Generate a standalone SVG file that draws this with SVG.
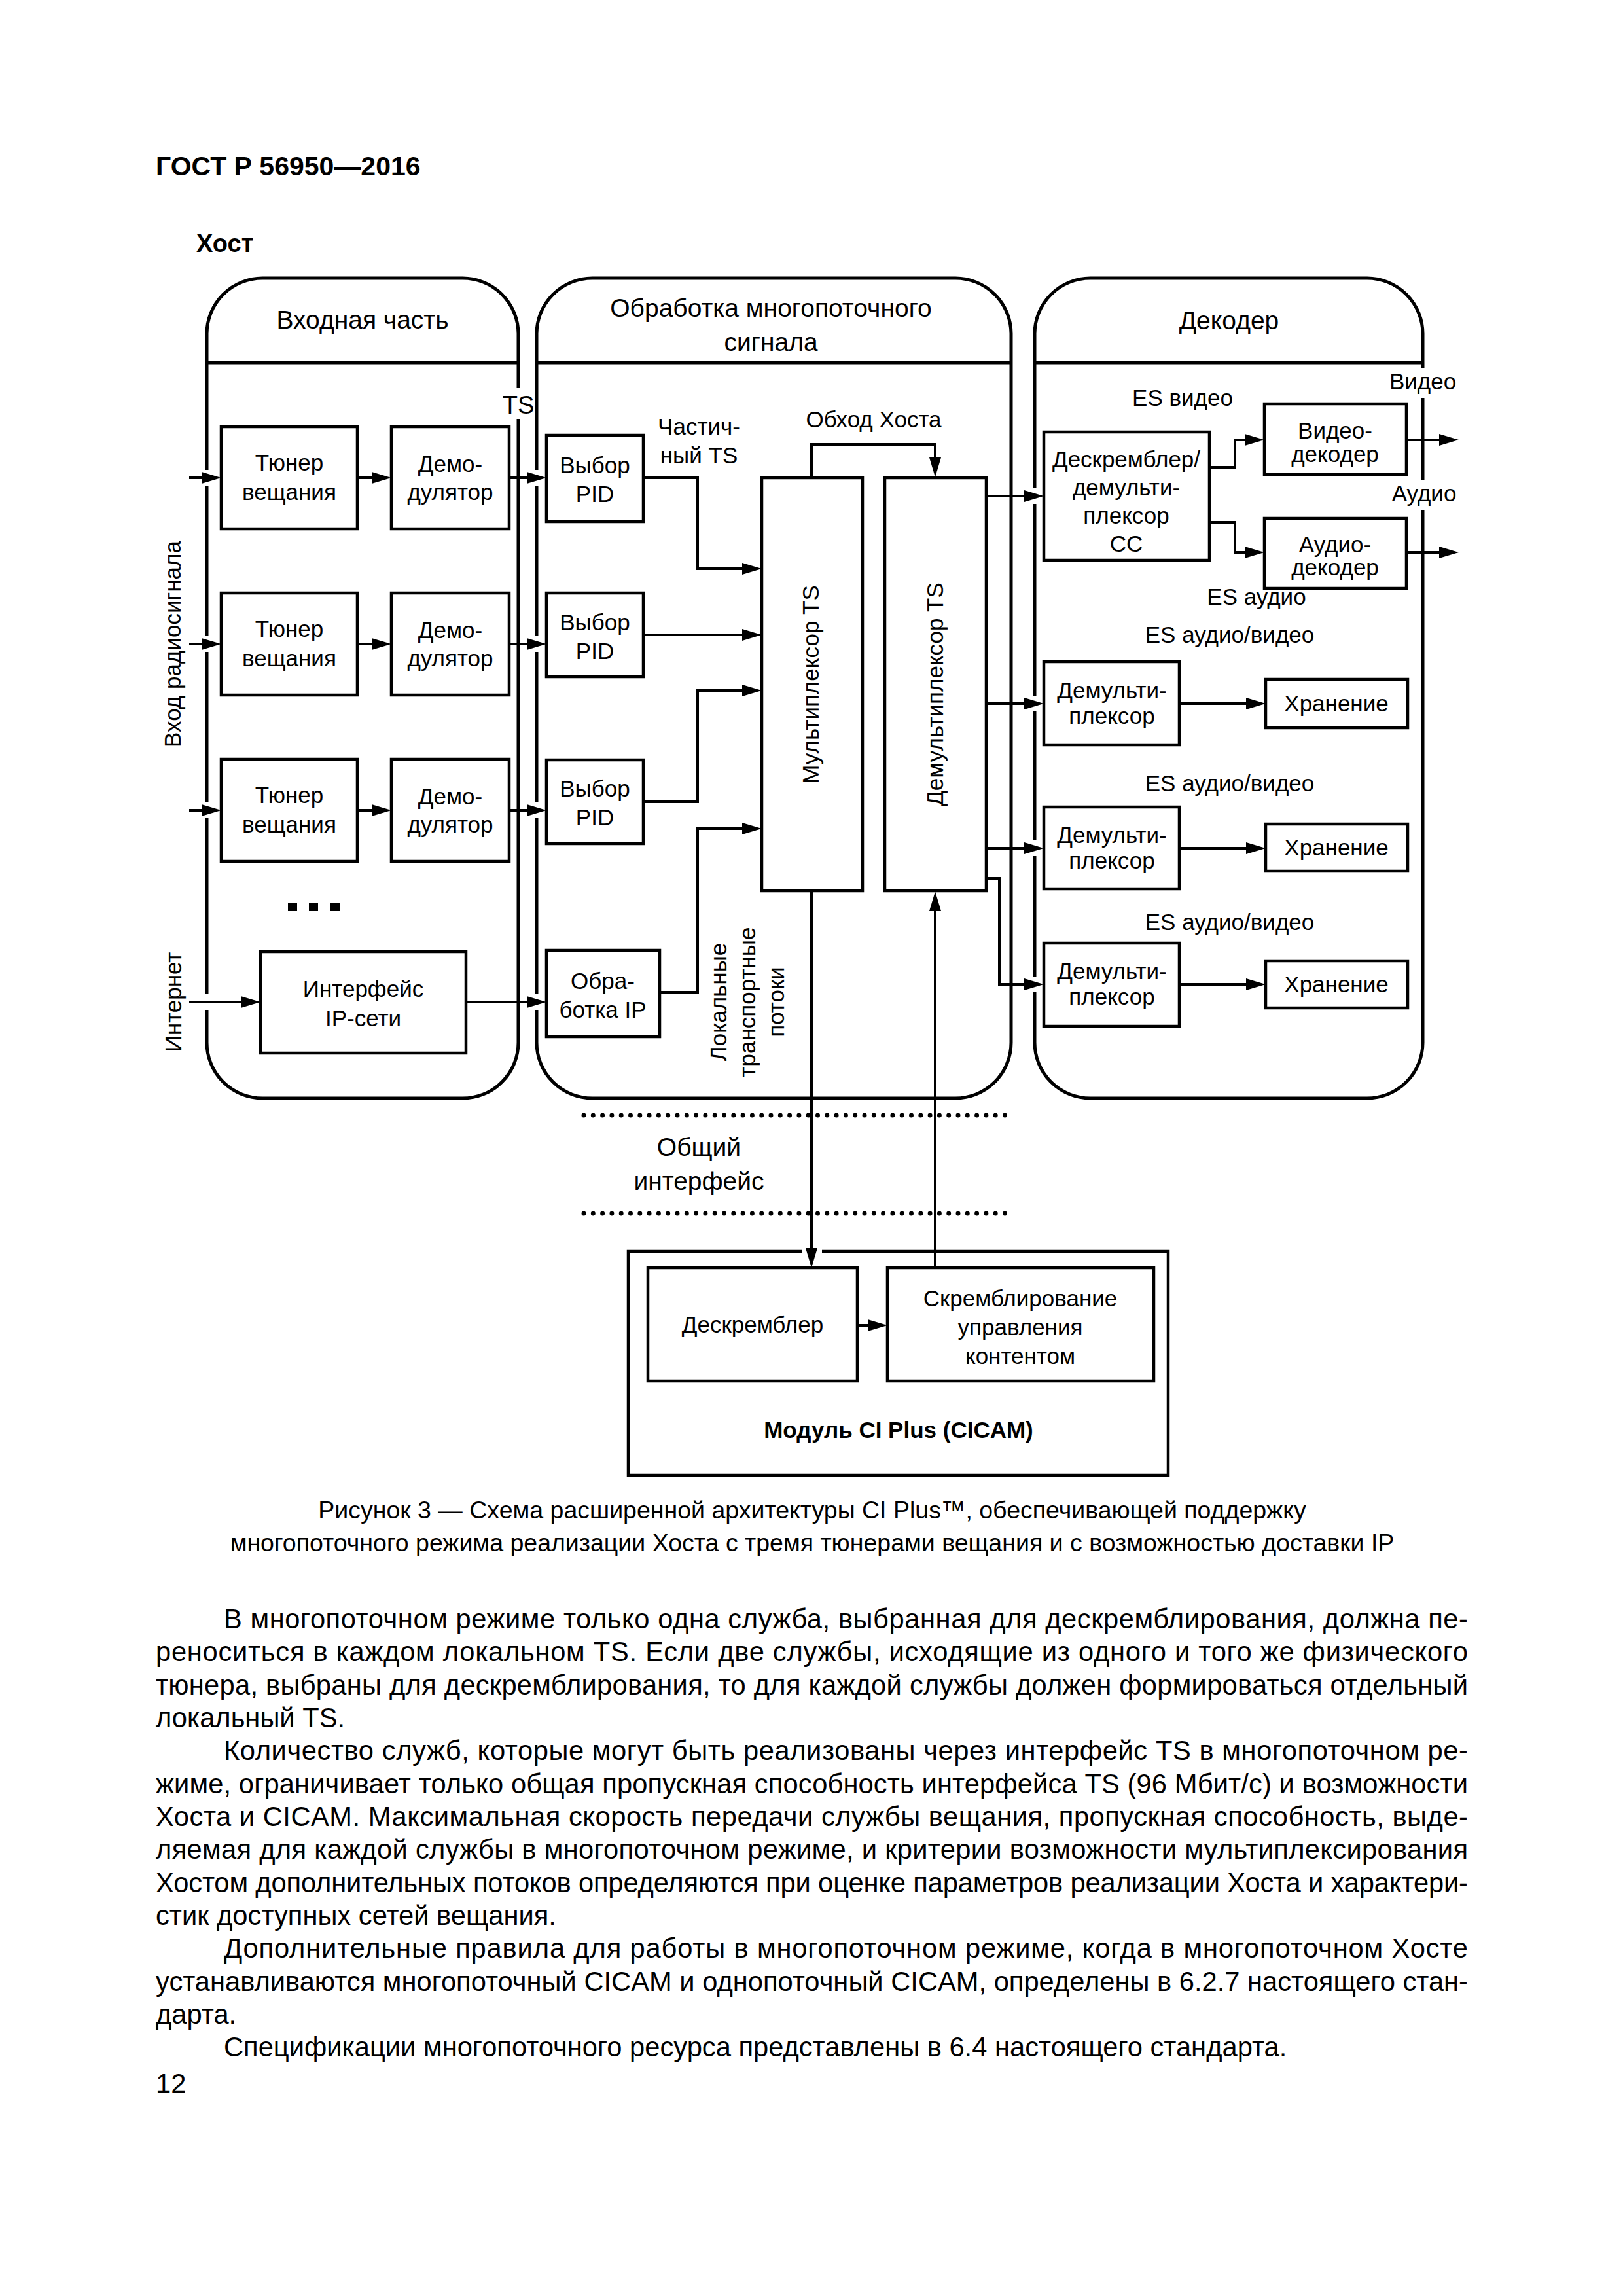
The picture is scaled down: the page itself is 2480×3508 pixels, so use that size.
<svg xmlns="http://www.w3.org/2000/svg" width="2480" height="3508" viewBox="0 0 2480 3508">
<style>
text{font-family:"Liberation Sans",Arial,Helvetica,sans-serif;fill:#000}
.t{font-size:35px;text-anchor:middle}
.h{font-size:39px;text-anchor:middle}
.b{font-size:41.7px}
.c{font-size:37.5px;text-anchor:middle}
.bd{font-weight:bold}
.box{fill:#fff;stroke:#000;stroke-width:4.5}
.panel{fill:none;stroke:#000;stroke-width:5}
.ln{fill:none;stroke:#000;stroke-width:4}
.arr{fill:none;stroke:#000;stroke-width:4;marker-end:url(#ah)}
.gap{fill:#fff;stroke:none}
.dots{fill:none;stroke:#000;stroke-width:7;stroke-linecap:round;stroke-dasharray:0 14.3}
</style>
<defs>
<marker id="ah" viewBox="0 0 30 18" refX="22" refY="9" markerWidth="30" markerHeight="18" markerUnits="userSpaceOnUse" orient="auto"><path d="M0,0 L30,9 L0,18 z" fill="#000"/></marker>
</defs>
<rect x="0" y="0" width="2480" height="3508" fill="#fff"/>

<text x="238" y="268" class="bd" font-size="41">ГОСТ Р 56950—2016</text>
<text x="300" y="385" class="bd" font-size="38">Хост</text>

<g id="panel-input">
<rect class="panel" x="316" y="425" width="476" height="1253" rx="85" ry="85"/>
<line class="panel" x1="316" y1="554" x2="792" y2="554"/>
<text class="h" x="554" y="502">Входная часть</text>
</g>
<g id="panel-processing">
<rect class="panel" x="820" y="425" width="725" height="1253" rx="85" ry="85"/>
<line class="panel" x1="820" y1="554" x2="1545" y2="554"/>
<text class="h" x="1178" y="484">Обработка многопоточного</text>
<text class="h" x="1178" y="536">сигнала</text>
</g>
<g id="panel-decoder">
<rect class="panel" x="1581" y="425" width="593" height="1253" rx="85" ry="85"/>
<line class="panel" x1="1581" y1="554" x2="2174" y2="554"/>
<text class="h" x="1878" y="503">Декодер</text>
</g>

<g id="gaps">
<rect class="gap" x="309" y="718" width="14" height="24"/>
<rect class="gap" x="309" y="972" width="14" height="24"/>
<rect class="gap" x="309" y="1226" width="14" height="24"/>
<rect class="gap" x="309" y="1519" width="14" height="24"/>
<rect class="gap" x="813" y="718" width="14" height="24"/>
<rect class="gap" x="813" y="972" width="14" height="24"/>
<rect class="gap" x="813" y="1226" width="14" height="24"/>
<rect class="gap" x="813" y="1519" width="14" height="24"/>
<rect class="gap" x="1574" y="746" width="14" height="24"/>
<rect class="gap" x="1574" y="1063" width="14" height="24"/>
<rect class="gap" x="1574" y="1284" width="14" height="24"/>
<rect class="gap" x="1574" y="1492" width="14" height="24"/>
<rect class="gap" x="2167" y="562" width="14" height="46"/>
<rect class="gap" x="2167" y="733" width="14" height="46"/>
<rect class="gap" x="785" y="593" width="14" height="47"/>
</g>

<text x="792" y="632" font-size="38" text-anchor="middle">TS</text>
<text class="t" transform="translate(276,984) rotate(-90)">Вход радиосигнала</text>
<text class="t" transform="translate(277,1531) rotate(-90)">Интернет</text>

<g id="tuner1"><rect class="box" x="338" y="652" width="208" height="156"/><text class="t" x="442" y="719">Тюнер</text><text class="t" x="442" y="764">вещания</text></g>
<g id="tuner2"><rect class="box" x="338" y="906" width="208" height="156"/><text class="t" x="442" y="973">Тюнер</text><text class="t" x="442" y="1018">вещания</text></g>
<g id="tuner3"><rect class="box" x="338" y="1160" width="208" height="156"/><text class="t" x="442" y="1227">Тюнер</text><text class="t" x="442" y="1272">вещания</text></g>
<g id="demod1"><rect class="box" x="598" y="652" width="180" height="156"/><text class="t" x="688" y="721">Демо-</text><text class="t" x="688" y="764">дулятор</text></g>
<g id="demod2"><rect class="box" x="598" y="906" width="180" height="156"/><text class="t" x="688" y="975">Демо-</text><text class="t" x="688" y="1018">дулятор</text></g>
<g id="demod3"><rect class="box" x="598" y="1160" width="180" height="156"/><text class="t" x="688" y="1229">Демо-</text><text class="t" x="688" y="1272">дулятор</text></g>
<g id="more"><rect x="440" y="1379" width="14" height="13"/><rect x="472" y="1379" width="14" height="13"/><rect x="505" y="1379" width="14" height="13"/></g>
<g id="ip-interface"><rect class="box" x="398" y="1454" width="314" height="155"/><text class="t" x="555" y="1523">Интерфейс</text><text class="t" x="555" y="1568">IP-сети</text></g>

<g id="pid1"><rect class="box" x="835" y="665" width="148" height="132"/><text class="t" x="909" y="723">Выбор</text><text class="t" x="909" y="767">PID</text></g>
<g id="pid2"><rect class="box" x="835" y="906" width="148" height="128"/><text class="t" x="909" y="963">Выбор</text><text class="t" x="909" y="1007">PID</text></g>
<g id="pid3"><rect class="box" x="835" y="1161" width="148" height="128"/><text class="t" x="909" y="1217">Выбор</text><text class="t" x="909" y="1261">PID</text></g>
<g id="ip-proc"><rect class="box" x="835" y="1452" width="173" height="132"/><text class="t" x="921" y="1511">Обра-</text><text class="t" x="921" y="1555">ботка IP</text></g>

<g id="mux"><rect class="box" x="1164" y="730" width="154" height="631"/><text class="t" transform="translate(1251,1046) rotate(-90)">Мультиплексор TS</text></g>
<g id="demux"><rect class="box" x="1352" y="730" width="155" height="631"/><text class="t" transform="translate(1441,1061) rotate(-90)">Демультиплексор TS</text></g>

<text class="t" x="1068" y="664">Частич-</text>
<text class="t" x="1068" y="708">ный TS</text>
<text class="t" x="1335" y="653">Обход Хоста</text>
<text class="t" transform="translate(1110,1531) rotate(-90)">Локальные</text>
<text class="t" transform="translate(1154,1531) rotate(-90)">транспортные</text>
<text class="t" transform="translate(1198,1531) rotate(-90)">потоки</text>

<g id="cc"><rect class="box" x="1595" y="660" width="253" height="196"/><text class="t" x="1721" y="714">Дескремблер/</text><text class="t" x="1721" y="757">демульти-</text><text class="t" x="1721" y="800">плексор</text><text class="t" x="1721" y="843">СС</text></g>
<g id="video-dec"><rect class="box" x="1932" y="617" width="217" height="108"/><text class="t" x="2040" y="670">Видео-</text><text class="t" x="2040" y="706">декодер</text></g>
<g id="audio-dec"><rect class="box" x="1932" y="792" width="217" height="107"/><text class="t" x="2040" y="844">Аудио-</text><text class="t" x="2040" y="879">декодер</text></g>
<text class="t" x="1807" y="620">ES видео</text>
<text class="t" x="2174" y="595">Видео</text>
<text class="t" x="2176" y="766">Аудио</text>
<text class="t" x="1920" y="924">ES аудио</text>
<text class="t" x="1879" y="982">ES аудио/видео</text>
<text class="t" x="1879" y="1209">ES аудио/видео</text>
<text class="t" x="1879" y="1421">ES аудио/видео</text>

<g id="demux1"><rect class="box" x="1595" y="1011" width="207" height="127"/><text class="t" x="1699" y="1067">Демульти-</text><text class="t" x="1699" y="1106">плексор</text></g>
<g id="demux2"><rect class="box" x="1595" y="1233" width="207" height="125"/><text class="t" x="1699" y="1288">Демульти-</text><text class="t" x="1699" y="1327">плексор</text></g>
<g id="demux3"><rect class="box" x="1595" y="1441" width="207" height="127"/><text class="t" x="1699" y="1496">Демульти-</text><text class="t" x="1699" y="1535">плексор</text></g>
<g id="store1"><rect class="box" x="1934" y="1038" width="217" height="74"/><text class="t" x="2042" y="1087">Хранение</text></g>
<g id="store2"><rect class="box" x="1934" y="1259" width="217" height="72"/><text class="t" x="2042" y="1307">Хранение</text></g>
<g id="store3"><rect class="box" x="1934" y="1468" width="217" height="72"/><text class="t" x="2042" y="1516">Хранение</text></g>

<g id="ci-bus">
<line class="dots" x1="892" y1="1704" x2="1546" y2="1704"/>
<line class="dots" x1="892" y1="1854" x2="1546" y2="1854"/>
<text class="h" x="1068" y="1766">Общий</text>
<text class="h" x="1068" y="1818">интерфейс</text>
</g>

<g id="cicam">
<rect class="box" x="960" y="1912" width="825" height="342" fill="none"/>
<rect class="gap" x="1226" y="1905" width="30" height="14"/>
<text class="t bd" x="1373" y="2197" font-size="37.5">Модуль CI Plus (CICAM)</text>
</g>
<g id="descrambler"><rect class="box" x="990" y="1937" width="320" height="173"/><text class="t" x="1150" y="2036">Дескремблер</text></g>
<g id="scrambler"><rect class="box" x="1356" y="1937" width="407" height="173"/><text class="t" x="1559" y="1996">Скремблирование</text><text class="t" x="1559" y="2040">управления</text><text class="t" x="1559" y="2084">контентом</text></g>

<g id="connectors">
<path class="arr" d="M289,730 H330"/>
<path class="arr" d="M289,984 H330"/>
<path class="arr" d="M289,1238 H330"/>
<path class="arr" d="M289,1531 H390"/>
<path class="arr" d="M546,730 H590"/>
<path class="arr" d="M546,984 H590"/>
<path class="arr" d="M546,1238 H590"/>
<path class="arr" d="M778,730 H827"/>
<path class="arr" d="M778,984 H827"/>
<path class="arr" d="M778,1238 H827"/>
<path class="arr" d="M712,1531 H827"/>
<path class="arr" d="M983,730 H1066 V869 H1156"/>
<path class="arr" d="M983,970 H1156"/>
<path class="arr" d="M983,1225 H1066 V1055 H1156"/>
<path class="arr" d="M1008,1516 H1066 V1266 H1156"/>
<path class="arr" d="M1240,730 V679 H1429 V721"/>
<path class="arr" d="M1507,758 H1587"/>
<path class="arr" d="M1507,1075 H1587"/>
<path class="arr" d="M1507,1296 H1587"/>
<path class="arr" d="M1507,1342 H1527 V1504 H1587"/>
<path class="arr" d="M1848,714 H1887 V672 H1924"/>
<path class="arr" d="M1848,798 H1887 V844 H1924"/>
<path class="arr" d="M2149,672 H2221"/>
<path class="arr" d="M2149,844 H2221"/>
<path class="arr" d="M1802,1075 H1926"/>
<path class="arr" d="M1802,1296 H1926"/>
<path class="arr" d="M1802,1504 H1926"/>
<path class="arr" d="M1240,1361 V1929"/>
<path class="arr" d="M1429,1937 V1370"/>
<path class="arr" d="M1310,2025 H1348"/>
</g>

<g id="caption">
<text class="c" x="1241" y="2320">Рисунок 3 — Схема расширенной архитектуры CI Plus™, обеспечивающей поддержку</text>
<text class="c" x="1241" y="2370">многопоточного режима реализации Хоста с тремя тюнерами вещания и с возможностью доставки IP</text>
</g>

<g id="body">
<text class="b" x="342" y="2488" textLength="1901">В многопоточном режиме только одна служба, выбранная для дескремблирования, должна пе-</text>
<text class="b" x="238" y="2538" textLength="2005">реноситься в каждом локальном TS. Если две службы, исходящие из одного и того же физического</text>
<text class="b" x="238" y="2589" textLength="2005">тюнера, выбраны для дескремблирования, то для каждой службы должен формироваться отдельный</text>
<text class="b" x="238" y="2639">локальный TS.</text>
<text class="b" x="342" y="2689" textLength="1901">Количество служб, которые могут быть реализованы через интерфейс TS в многопоточном ре-</text>
<text class="b" x="238" y="2740" textLength="2005">жиме, ограничивает только общая пропускная способность интерфейса TS (96 Мбит/с) и возможности</text>
<text class="b" x="238" y="2790" textLength="2005">Хоста и CICAM. Максимальная скорость передачи службы вещания, пропускная способность, выде-</text>
<text class="b" x="238" y="2840" textLength="2005">ляемая для каждой службы в многопоточном режиме, и критерии возможности мультиплексирования</text>
<text class="b" x="238" y="2891" textLength="2005">Хостом дополнительных потоков определяются при оценке параметров реализации Хоста и характери-</text>
<text class="b" x="238" y="2941">стик доступных сетей вещания.</text>
<text class="b" x="342" y="2991" textLength="1901">Дополнительные правила для работы в многопоточном режиме, когда в многопоточном Хосте</text>
<text class="b" x="238" y="3042" textLength="2005">устанавливаются многопоточный CICAM и однопоточный CICAM, определены в 6.2.7 настоящего стан-</text>
<text class="b" x="238" y="3092">дарта.</text>
<text class="b" x="342" y="3142">Спецификации многопоточного ресурса представлены в 6.4 настоящего стандарта.</text>
<text class="b" x="238" y="3198">12</text>
</g>
</svg>
